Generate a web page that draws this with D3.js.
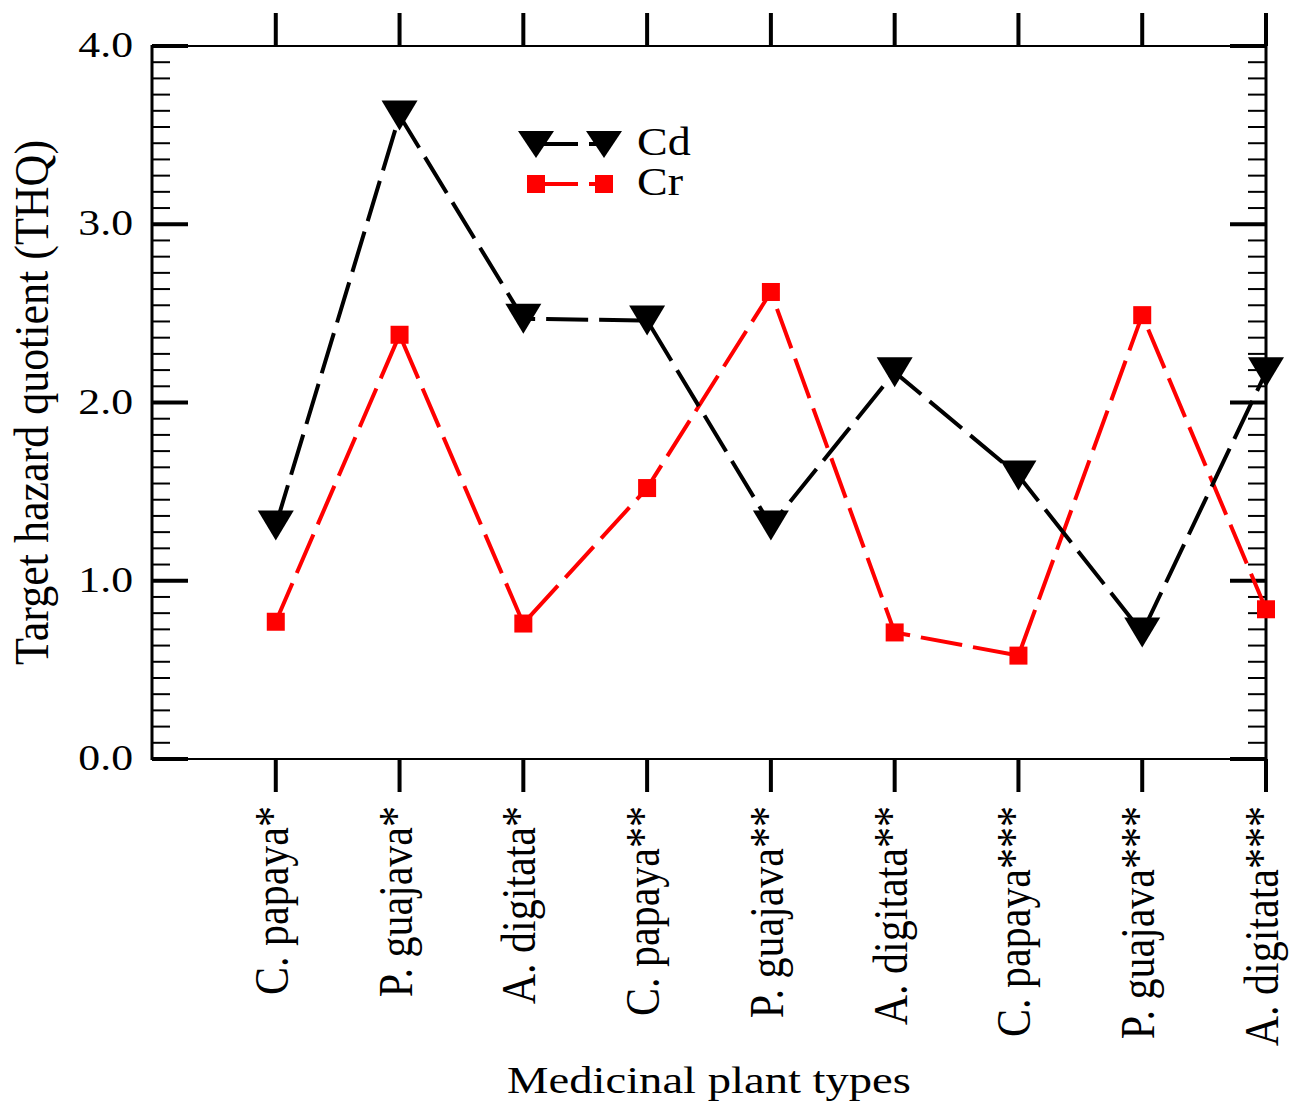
<!DOCTYPE html>
<html>
<head>
<meta charset="utf-8">
<script src="https://cdn.jsdelivr.net/npm/d3@7"></script>
<style>
  body { margin: 0; background: #fff; }
  text { font-family: "Liberation Serif", "Times New Roman", serif; fill: #000; }
</style>
</head>
<body>
<svg id="chart" width="1297" height="1107"></svg>
<script>
// data
const plants = ['C. papaya*', 'P. guajava*', 'A. digitata*',
  'C. papaya**', 'P. guajava**', 'A. digitata**',
  'C. papaya***', 'P. guajava***', 'A. digitata***'];
const cd = [1.31, 3.61, 2.47, 2.46, 1.31, 2.17, 1.59, 0.71, 2.17];
const cr = [0.77, 2.38, 0.76, 1.52, 2.62, 0.71, 0.58, 2.49, 0.84];
const yTicks = [0, 1, 2, 3, 4];
const seriesNames = ['Cd', 'Cr'];

const LEFT = 152, RIGHT = 1266, TOP = 46, BOTTOM = 759;

const svg = d3.select('#chart');

// x: category index, the left axis sits one step before the first plant
const x = d3.scaleLinear().domain([-1, plants.length - 1]).range([LEFT, RIGHT]);
const y = d3.scaleLinear().domain([0, 4]).range([BOTTOM, TOP]);

// minor ticks: ten between each pair of majors
const minor = [];
yTicks.slice(0, -1).forEach(t => {
  for (let k = 1; k <= 10; k++) minor.push(t + k / 11);
});

const frame = svg.append('g');

// frame lines
frame.append('line').attr('x1', LEFT).attr('x2', RIGHT).attr('y1', TOP).attr('y2', TOP)
  .attr('stroke', '#000').attr('stroke-width', 2);
frame.append('line').attr('x1', LEFT).attr('x2', RIGHT).attr('y1', BOTTOM).attr('y2', BOTTOM)
  .attr('stroke', '#000').attr('stroke-width', 2);
frame.append('line').attr('x1', LEFT).attr('x2', LEFT).attr('y1', TOP - 1).attr('y2', BOTTOM + 1)
  .attr('stroke', '#000').attr('stroke-width', 3);
frame.append('line').attr('x1', RIGHT).attr('x2', RIGHT).attr('y1', TOP - 1).attr('y2', BOTTOM + 1)
  .attr('stroke', '#000').attr('stroke-width', 3);

// y ticks, both sides, pointing inwards
[[LEFT, 1], [RIGHT, -1]].forEach(([x0, dir]) => {
  frame.selectAll(null).data(yTicks).enter().append('line')
    .attr('x1', x0).attr('x2', x0 + dir * 36)
    .attr('y1', d => y(d)).attr('y2', d => y(d))
    .attr('stroke', '#000').attr('stroke-width', 4);
  frame.selectAll(null).data(minor).enter().append('line')
    .attr('x1', x0).attr('x2', x0 + dir * 18)
    .attr('y1', d => y(d)).attr('y2', d => y(d))
    .attr('stroke', '#000').attr('stroke-width', 2);
});

// x ticks, top and bottom, pointing outwards
const idx = d3.range(plants.length);
frame.selectAll(null).data(idx).enter().append('line')
  .attr('x1', d => x(d)).attr('x2', d => x(d))
  .attr('y1', TOP).attr('y2', TOP - 33)
  .attr('stroke', '#000').attr('stroke-width', 4);
frame.selectAll(null).data(idx).enter().append('line')
  .attr('x1', d => x(d)).attr('x2', d => x(d))
  .attr('y1', BOTTOM).attr('y2', BOTTOM + 33)
  .attr('stroke', '#000').attr('stroke-width', 4);

// y tick labels (text in the figure is stretched sideways)
svg.selectAll('.ylab').data(yTicks).enter().append('text')
  .attr('class', 'ylab')
  .attr('transform', d => `translate(${LEFT - 19}, ${y(d) + 11}) scale(1.25,1)`)
  .attr('text-anchor', 'end')
  .style('font-size', '35px')
  .text(d3.format('.1f'));

// category labels, rotated
svg.selectAll('.xlab').data(plants).enter().append('text')
  .attr('class', 'xlab')
  .attr('transform', (d, i) => `translate(${x(i) + 12}, 806) scale(1.15,1) rotate(-90)`)
  .attr('text-anchor', 'end')
  .style('font-size', '42px')
  .text(d => d);

// axis titles
svg.append('text')
  .attr('transform', `translate(${(LEFT + RIGHT) / 2}, 1093) scale(1.26,1)`)
  .attr('text-anchor', 'middle')
  .style('font-size', '37px')
  .text('Medicinal plant types');

svg.append('text')
  .attr('transform', `translate(48, ${(TOP + BOTTOM) / 2}) scale(1.1,1) rotate(-90)`)
  .attr('text-anchor', 'middle')
  .style('font-size', '44px')
  .text('Target hazard quotient (THQ)');

// series
const line = d3.line().x((d, i) => x(i)).y(d => y(d));
const tri = 'M-18,-15L18,-15L0,15Z';

const plot = svg.append('g');

plot.append('path').datum(cr)
  .attr('d', line).attr('fill', 'none')
  .attr('stroke', '#ff0000').attr('stroke-width', 4)
  .attr('stroke-dasharray', '42,11');
plot.selectAll('.crpt').data(cr).enter().append('rect')
  .attr('class', 'crpt')
  .attr('x', (d, i) => x(i) - 9).attr('y', d => y(d) - 9)
  .attr('width', 18).attr('height', 18)
  .attr('fill', '#ff0000');

plot.append('path').datum(cd)
  .attr('d', line).attr('fill', 'none')
  .attr('stroke', '#000').attr('stroke-width', 4)
  .attr('stroke-dasharray', '42,11');
plot.selectAll('.cdpt').data(cd).enter().append('path')
  .attr('class', 'cdpt')
  .attr('transform', (d, i) => `translate(${x(i)}, ${y(d)})`)
  .attr('d', tri)
  .attr('fill', '#000');

// legend
const legend = svg.append('g');
const legendRows = [
  { name: seriesNames[0], color: '#000', y: 144, marker: 'tri' },
  { name: seriesNames[1], color: '#ff0000', y: 184, marker: 'sq' }
];
legendRows.forEach(r => {
  legend.append('line')
    .attr('x1', 536).attr('x2', 604).attr('y1', r.y).attr('y2', r.y)
    .attr('stroke', r.color).attr('stroke-width', 4)
    .attr('stroke-dasharray', '42,11');
  [536, 604].forEach(mx => {
    if (r.marker === 'tri') {
      legend.append('path').attr('transform', `translate(${mx}, ${r.y})`)
        .attr('d', 'M-18,-13L18,-13L0,14Z').attr('fill', r.color);
    } else {
      legend.append('rect').attr('x', mx - 9).attr('y', r.y - 9)
        .attr('width', 18).attr('height', 18).attr('fill', r.color);
    }
  });
  legend.append('text')
    .attr('transform', `translate(637, ${r.y + 11}) scale(1.15,1)`)
    .style('font-size', '40px')
    .text(r.name);
});
</script>
</body>
</html>
